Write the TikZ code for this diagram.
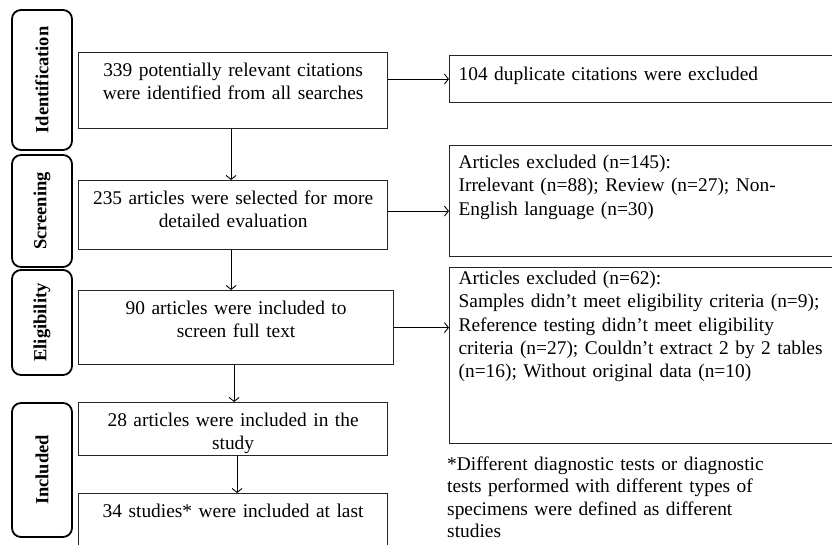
\documentclass[tikz,border=0pt]{standalone}
\usepackage{fontspec}
\setmainfont{Liberation Serif}
\usetikzlibrary{arrows.meta}

\begin{document}
\begin{tikzpicture}[x=1pt, y=1pt, font=\fontsize{19.4}{23.3}\selectfont]
        % Define styles
        \tikzstyle{stage} = [rectangle, rounded corners=9pt, draw=black, line width=1.8pt, minimum height=60pt, rotate=90, font=\fontsize{18.5}{20}\selectfont\bfseries]
        \tikzstyle{process} = [rectangle, draw=black!85, line width=1.2pt, anchor=north west, inner xsep=5pt, inner ysep=5pt, align=center, text height=19pt]
        \tikzstyle{excluded} = [rectangle, draw=black!85, line width=1.2pt, anchor=north west, inner xsep=9pt, inner ysep=5pt, align=left, text width=382pt]
        \tikzstyle{arrow} = [line width=0.9pt, -{Straight Barb[length=4pt, width=10pt]}]

        \useasboundingbox (0,0) rectangle (832,-545);

        % Stages
        \node (ident) [stage, minimum width=140pt] at (42,-80) {Identification};
        \node (screen) [stage, minimum width=112pt] at (42,-211) {Screening};
        \node (elig) [stage, minimum width=105pt] at (42,-322.5) {Eligibility};
        \node (incl) [stage, minimum width=134pt] at (42,-470) {Included};

        % Nodes
        \node (cit) [process, text width=299pt, text depth=47pt] at (78,-52) {339 potentially relevant citations\\ were identified from all searches};
        \node (sel) [process, text width=299pt, text depth=40pt] at (78,-180) {235 articles were selected for more\\ detailed evaluation};
        \node (full) [process, text width=305pt, text depth=45pt] at (78,-290) {90 articles were included to\\ screen full text};
        \node (incart) [process, text width=299pt, text depth=24pt] at (78,-402) {28 articles were included in the\\ study};
        \node (last) [process, text width=299pt, text depth=40pt] at (78,-493) {34 studies* were included at last};

        \node (dup) [excluded, text height=20pt, text depth=17pt] at (449,-55) {104 duplicate citations were excluded};
        \node (exa) [excluded, text height=18pt, text depth=83pt] at (449,-145) {Articles excluded (n=145):\\ Irrelevant (n=88); Review (n=27); Non-\\ English language (n=30)};
        \node (exb) [excluded, text height=12pt, text depth=154pt] at (449,-267) {Articles excluded (n=62):\\ Samples didn’t meet eligibility criteria (n=9);\\ Reference testing didn’t meet eligibility\\ criteria (n=27); Couldn’t extract 2 by 2 tables\\ (n=16); Without original data (n=10)};

        \node (note) [anchor=base west, inner sep=0pt, align=left, text width=380pt, font=\fontsize{19.4}{22.5}\selectfont] at (447,-470) {*Different diagnostic tests or diagnostic\\ tests performed with different types of\\ specimens were defined as different\\ studies};

        % Arrows
        \draw [arrow] ([xshift=-2pt]cit.south) -- ([xshift=-2pt]sel.north);
        \draw [arrow] ([xshift=-2pt]sel.south) -- ([xshift=-5pt]full.north);
        \draw [arrow] ([xshift=-2pt]full.south) -- ([xshift=1pt]incart.north);
        \draw [arrow] ([xshift=4pt]incart.south) -- ([xshift=4pt]last.north);

        \draw [arrow] (cit.east |- dup.west) -- (dup.west);
        \draw [arrow] ([yshift=4pt]sel.east) -- ([yshift=4pt]sel.east -| exa.west);
        \draw [arrow] (full.east) -- (full.east -| exb.west);
    \end{tikzpicture}
\end{document}
